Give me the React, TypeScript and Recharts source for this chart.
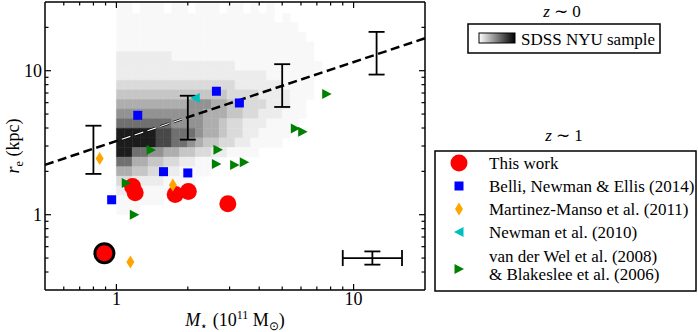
import { ErrorBar, ReferenceArea, ReferenceLine, Scatter, ScatterChart, XAxis, YAxis } from "recharts";

const SERIF = "Liberation Serif";

// z ~ 1 samples, stellar mass (1e11 Msun) and effective radius (kpc)
const thisWorkM = [1.17, 1.2, 1.77, 2.01, 2.95];
const thisWorkR = [1.57, 1.42, 1.38, 1.45, 1.19];
const highlightM = [0.89];
const highlightR = [0.54];
const belliM = [1.23, 2.64, 3.3, 1.58, 2.0, 0.955];
const belliR = [4.9, 7.2, 5.97, 1.99, 1.95, 1.27];
const mmM = [0.85, 1.73, 1.145];
const mmR = [2.46, 1.61, 0.47];
const newmanM = [2.15];
const newmanR = [6.46];
const vdwM = [1.4, 1.1, 1.19, 2.68, 2.64, 3.15, 3.46, 5.68, 6.1, 7.7];
const vdwR = [2.81, 1.66, 1.0, 2.83, 2.25, 2.21, 2.31, 3.97, 3.77, 6.9];

// z ~ 0 relation (dashed) and its scatter
const relM = [0.5, 20];
const relR = [2.22, 16.8];
const binM = [0.8, 2.0, 5.0, 12.5];
const binR = [2.87, 4.77, 8.0, 13.3];
const binLo = [1.92, 3.32, 5.6, 9.4];
const binHi = [4.15, 6.7, 11.1, 18.6];

// typical error bar
const typM = [12.0];
const typR = [0.5];
const typMLo = [9.0];
const typMHi = [16.0];
const typRLo = [0.45];
const typRHi = [0.556];

// SDSS density (0 white .. 9 black), top row first; bins of 1/30 dex in M from 1, 1/15 dex in r from 1
const sdssRows = [
  "110111011011101101010000000",
  "111111111111111111110100000",
  "111111111111111111111110000",
  "111111111111111111111111000",
  "111111111111111111111111100",
  "222222211111111111111111100",
  "222222222222222111111111110",
  "222222222222222222211111100",
  "333333333333333222222111100",
  "444444444444443333222211100",
  "555555555666554433322211000",
  "666666666665554433222111000",
  "777777766665543322211110000",
  "999998877765543322111100000",
  "999998877654433221111000000",
  "997766554433221111000000000",
  "775544332211100000000000000",
  "554433221111000000000000000",
  "332222111100000000000000000",
  "222111110000000000000000000",
  "111111000000000000000000000",
  "111000000000000000000000000",
];
const greyLevels = [255, 248, 236, 218, 198, 174, 146, 112, 72, 28];

const xDomain = [0.5, 20];
const yDomain = [0.3, 30];
const xMajor = [1, 10];
const xMinor = [0.6, 0.7, 0.8, 0.9, 2, 3, 4, 5, 6, 7, 8, 9];
const yMajor = [1, 10];
const yMinor = [0.4, 0.5, 0.6, 0.7, 0.8, 0.9, 2, 3, 4, 5, 6, 7, 8, 9, 20];

const pts = (m: number[], r: number[]) => m.map((x, i) => ({ x, y: r[i] }));

const cells: { x1: number; x2: number; y1: number; y2: number; v: number }[] = [];
sdssRows.forEach((row, i) => {
  const k = sdssRows.length - 1 - i;
  row.split("").forEach((c, j) => {
    const v = Number(c);
    if (v > 0) {
      cells.push({
        x1: Math.pow(10, j / 30),
        x2: Math.pow(10, (j + 1) / 30),
        y1: Math.pow(10, k / 15),
        y2: Math.pow(10, (k + 1) / 15),
        v,
      });
    }
  });
});

const binData = binM.map((x, i) => ({ x, y: binR[i], err: [binR[i] - binLo[i], binHi[i] - binR[i]] }));
const typData = typM.map((x, i) => ({
  x,
  y: typR[i],
  xerr: [x - typMLo[i], typMHi[i] - x],
  yerr: [typR[i] - typRLo[i], typRHi[i] - typR[i]],
}));

const RedDot = ({ cx, cy }: any) => <circle cx={cx} cy={cy} r={8.5} fill="#ff0000" />;
const BigDot = ({ cx, cy }: any) => <circle cx={cx} cy={cy} r={9.5} fill="#ff0000" stroke="#000" strokeWidth={3} />;
const Square = ({ cx, cy }: any) => <rect x={cx - 4.5} y={cy - 4.5} width={9} height={9} fill="#0000ff" />;
const Diamond = ({ cx, cy }: any) => (
  <polygon points={`${cx},${cy - 6.5} ${cx + 4},${cy} ${cx},${cy + 6.5} ${cx - 4},${cy}`} fill="#ffa500" />
);
const TriLeft = ({ cx, cy }: any) => (
  <polygon points={`${cx - 5},${cy} ${cx + 4.5},${cy - 5} ${cx + 4.5},${cy + 5}`} fill="#00bfbf" />
);
const TriRight = ({ cx, cy }: any) => (
  <polygon points={`${cx + 5},${cy} ${cx - 4.5},${cy - 5} ${cx - 4.5},${cy + 5}`} fill="#008000" />
);
const Hidden = () => <g />;

// axis ticks: inward marks, labels only on the outer bottom/left axes
function XTick(props: any) {
  const { x, y, payload, inward, showLabel } = props;
  const major = xMajor.includes(payload.value);
  const len = major ? 6 : 3.5;
  return (
    <g>
      <path d={`M${x},${y}L${x},${y + inward * len}`} stroke="#000" strokeWidth={1.2} fill="none" />
      {showLabel && major && (
        <text x={x} y={y + 15} textAnchor="middle" fontSize={18} fontFamily={SERIF} fill="#000">
          {payload.value}
        </text>
      )}
    </g>
  );
}

function YTick(props: any) {
  const { x, y, payload, inward, showLabel } = props;
  const major = yMajor.includes(payload.value);
  const len = major ? 6 : 3.5;
  return (
    <g>
      <path d={`M${x},${y}L${x + inward * len},${y}`} stroke="#000" strokeWidth={1.2} fill="none" />
      {showLabel && major && (
        <text x={x - 3} y={y + 6} textAnchor="end" fontSize={18} fontFamily={SERIF} fill="#000">
          {payload.value}
        </text>
      )}
    </g>
  );
}

const XLabel = ({ viewBox }: any) => (
  <text x={viewBox.x + viewBox.width / 2} y={viewBox.y + 36} textAnchor="middle" fontSize={18} fontFamily={SERIF} fill="#000">
    <tspan fontStyle="italic">M</tspan>
    <tspan fontSize={12} dy={4}>⋆</tspan>
    <tspan dy={-4}> (10</tspan>
    <tspan fontSize={12} dy={-7}>11</tspan>
    <tspan dy={7}> M</tspan>
    <tspan fontSize={12} dy={4}>⊙</tspan>
    <tspan dy={-4}>)</tspan>
  </text>
);

const YLabel = ({ viewBox }: any) => (
  <text
    transform={`translate(${viewBox.x + 19},${viewBox.y + viewBox.height / 2}) rotate(-90)`}
    textAnchor="middle"
    fontSize={18}
    fontFamily={SERIF}
    fill="#000"
  >
    <tspan fontStyle="italic">r</tspan>
    <tspan fontSize={12} dy={4}>e</tspan>
    <tspan dy={-4}> (kpc)</tspan>
  </text>
);

const legendItems = [
  { Shape: RedDot, lines: ["This work"] },
  { Shape: Square, lines: ["Belli, Newman & Ellis (2014)"] },
  { Shape: Diamond, lines: ["Martinez-Manso et al. (2011)"] },
  { Shape: TriLeft, lines: ["Newman et al. (2010)"] },
  { Shape: TriRight, lines: ["van der Wel et al. (2008)", "& Blakeslee et al. (2006)"] },
];
const legendBaselines = [169, 192, 215, 238, 262];

const CHART_MARGIN = { top: 2, right: 273, bottom: 0, left: 0 };

// greyscale SDSS density, drawn in its own chart underneath with identical plot geometry
function DensityLayer() {
  return (
    <ScatterChart width={698} height={332} margin={CHART_MARGIN}>
      <XAxis type="number" dataKey="x" scale="log" domain={xDomain} allowDataOverflow height={42} tick={false} tickLine={false} axisLine={false} />
      <YAxis type="number" dataKey="y" scale="log" domain={yDomain} allowDataOverflow width={45} tick={false} tickLine={false} axisLine={false} />
      {cells.map((c, i) => {
        const g = greyLevels[c.v];
        const col = `rgb(${g},${g},${g})`;
        return (
          <ReferenceArea
            key={i}
            x1={c.x1}
            x2={c.x2}
            y1={c.y1}
            y2={c.y2}
            fill={col}
            fillOpacity={1}
            stroke={col}
            strokeWidth={0.5}
          />
        );
      })}
      <Scatter data={[]} isAnimationActive={false} />
    </ScatterChart>
  );
}

export default function App() {
  const axisStyle = { stroke: "#000", strokeWidth: 1.5 };
  const xCommon = {
    type: "number" as const,
    dataKey: "x",
    scale: "log" as const,
    domain: xDomain,
    allowDataOverflow: true,
    ticks: [...xMajor, ...xMinor],
    interval: 0,
    tickSize: 0,
    tickMargin: 0,
    tickLine: false,
    axisLine: axisStyle,
  };
  const yCommon = {
    type: "number" as const,
    dataKey: "y",
    scale: "log" as const,
    domain: yDomain,
    allowDataOverflow: true,
    ticks: [...yMajor, ...yMinor],
    interval: 0,
    tickSize: 0,
    tickMargin: 0,
    tickLine: false,
    axisLine: axisStyle,
  };

  return (
    <div style={{ position: "absolute", left: 0, top: 0, width: 698, height: 332, background: "#fff" }}>
      <div style={{ position: "absolute", left: 0, top: 0 }}>
        <DensityLayer />
      </div>

      <div style={{ position: "absolute", left: 0, top: 0 }}>
        <ScatterChart width={698} height={332} margin={CHART_MARGIN}>
          <XAxis {...xCommon} height={42} tick={<XTick inward={-1} showLabel />} label={{ content: XLabel }} />
          <XAxis {...xCommon} xAxisId="top" orientation="top" mirror height={20} tick={<XTick inward={1} />} />
          <YAxis {...yCommon} width={45} tick={<YTick inward={1} showLabel />} label={{ content: YLabel }} />
          <YAxis {...yCommon} yAxisId="right" orientation="right" mirror width={20} tick={<YTick inward={-1} />} />

          <ReferenceLine
            segment={[{ x: relM[0], y: relR[0] }, { x: relM[1], y: relR[1] }]}
            stroke="#000"
            strokeWidth={2.5}
            strokeDasharray="9 4.5"
          />
          <ReferenceLine
            segment={[{ x: relM[0], y: relR[0] }, { x: relM[1], y: relR[1] }]}
            stroke="url(#whiteDash)"
            strokeWidth={1.1}
            strokeDasharray="9 4.5"
          />

          <Scatter data={binData} shape={Hidden} isAnimationActive={false}>
            <ErrorBar dataKey="err" direction="y" width={8} stroke="#000" strokeWidth={1.8} isAnimationActive={false} />
          </Scatter>
          <Scatter data={typData} shape={Hidden} isAnimationActive={false}>
            <ErrorBar dataKey="xerr" direction="x" width={8} stroke="#000" strokeWidth={1.8} isAnimationActive={false} />
            <ErrorBar dataKey="yerr" direction="y" width={8} stroke="#000" strokeWidth={1.8} isAnimationActive={false} />
          </Scatter>

          <Scatter data={pts(thisWorkM, thisWorkR)} shape={RedDot} isAnimationActive={false} />
          <Scatter data={pts(highlightM, highlightR)} shape={BigDot} isAnimationActive={false} />
          <Scatter data={pts(belliM, belliR)} shape={Square} isAnimationActive={false} />
          <Scatter data={pts(mmM, mmR)} shape={Diamond} isAnimationActive={false} />
          <Scatter data={pts(newmanM, newmanR)} shape={TriLeft} isAnimationActive={false} />
          <Scatter data={pts(vdwM, vdwR)} shape={TriRight} isAnimationActive={false} />
        </ScatterChart>
      </div>

      <svg width={0} height={0} style={{ position: "absolute" }}>
        <defs>
          <linearGradient id="whiteDash" x1="0" x2="1" y1="0" y2="0">
            <stop offset="0.2" stopColor="#fff" stopOpacity={0} />
            <stop offset="0.2" stopColor="#fff" stopOpacity={1} />
            <stop offset="0.36" stopColor="#fff" stopOpacity={1} />
            <stop offset="0.36" stopColor="#fff" stopOpacity={0} />
          </linearGradient>
        </defs>
      </svg>

      <svg width={268} height={332} viewBox="430 0 268 332" style={{ position: "absolute", left: 430, top: 0 }}>
        <defs>
          <linearGradient id="sdssSwatch" x1="0" x2="1" y1="0" y2="0">
            <stop offset="0" stopColor="#fff" />
            <stop offset="1" stopColor="#000" />
          </linearGradient>
        </defs>
        <g fontFamily={SERIF} fontSize={17} fill="#000">
          <text x={562} y={17} textAnchor="middle">
            <tspan fontStyle="italic">z</tspan> ∼ 0
          </text>
          <rect x={468} y={24} width={192} height={29} fill="#fff" stroke="#000" strokeWidth={1.5} />
          <rect x={479} y={33} width={36} height={10} fill="url(#sdssSwatch)" stroke="#000" strokeWidth={1} />
          <text x={521} y={45}>SDSS NYU sample</text>

          <text x={564} y={141} textAnchor="middle">
            <tspan fontStyle="italic">z</tspan> ∼ 1
          </text>
          <rect x={435} y={151} width={261} height={140} fill="#fff" stroke="#000" strokeWidth={1.5} />
          {legendItems.map((it, i) => {
            const b = legendBaselines[i];
            const cy = it.lines.length > 1 ? b + 7 : b - 6;
            return (
              <g key={i}>
                <it.Shape cx={459} cy={cy} />
                {it.lines.map((t, j) => (
                  <text key={j} x={489} y={b + j * 18}>
                    {t}
                  </text>
                ))}
              </g>
            );
          })}
        </g>
      </svg>
    </div>
  );
}
